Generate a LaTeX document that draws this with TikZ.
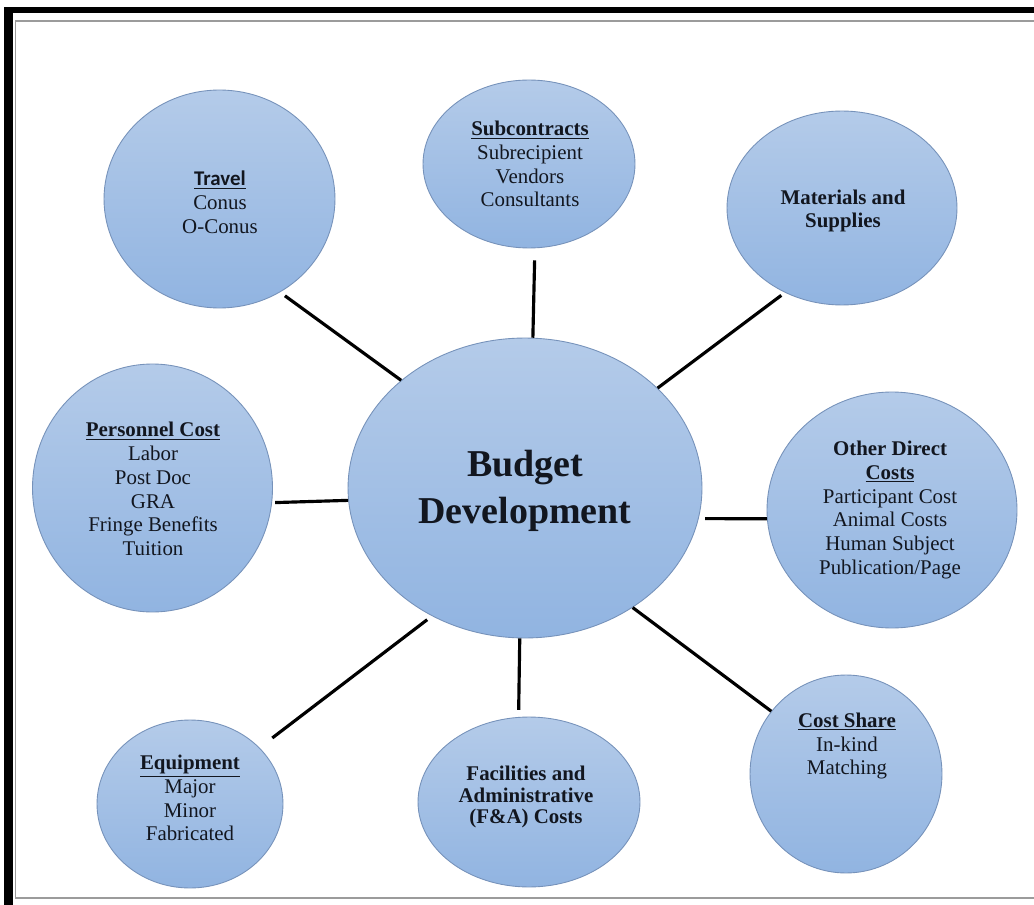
\documentclass[tikz,border=0pt]{standalone}
\usepackage{fontspec}
\setmainfont{Liberation Serif}[Ligatures=TeX]
\newfontfamily\timesf{Liberation Serif}
\newfontfamily\calibri{Carlito}
\usetikzlibrary{shapes.geometric}
\definecolor{ink}{HTML}{12161F}
\definecolor{bubtop}{RGB}{180,203,233}
\definecolor{bubbot}{RGB}{145,180,225}
\definecolor{bubedge}{RGB}{118,146,186}
\definecolor{framegray}{RGB}{155,155,155}
\begin{document}
\begin{tikzpicture}[x=0.02cm,y=-0.02cm,
  bubble/.style={ellipse, draw=bubedge, line width=0.5pt,
    top color=bubtop, bottom color=bubbot, inner sep=0pt},
  btext/.style={align=center, text=ink, inner sep=0pt,
    font=\timesf\fontsize{11.9}{13.6}\selectfont},
  spoke/.style={line width=1.8pt, draw=black}]
\useasboundingbox (0,0) rectangle (1034,905);
\clip (0,0) rectangle (1034,905);

% page frame: heavy black edge with a thin grey rule inside
\fill[black] (4,7) rectangle (1060,930);
\fill[white] (13,13) rectangle (1060,930);
\draw[framegray, line width=1.1pt] (15.5,21) rectangle (1060,898);

% bubbles
\node[bubble, minimum width=4.62cm, minimum height=4.36cm] (trav)  at (219.5,199) {};
\node[bubble, minimum width=4.24cm, minimum height=3.36cm] (sub)   at (529,164) {};
\node[bubble, minimum width=4.60cm, minimum height=3.88cm] (mat)   at (842,208) {};
\node[bubble, minimum width=4.80cm, minimum height=4.96cm] (pers)  at (152.5,488) {};
\node[bubble, minimum width=7.08cm, minimum height=6.00cm] (bud)   at (525,488) {};
\node[bubble, minimum width=5.00cm, minimum height=4.72cm] (odc)   at (892,510) {};
\node[bubble, minimum width=3.72cm, minimum height=3.36cm] (equip) at (190,804) {};
\node[bubble, minimum width=4.44cm, minimum height=3.40cm] (fa)    at (529,802) {};
\node[bubble, minimum width=3.84cm, minimum height=3.96cm] (cs)    at (846,774) {};

% spokes to the central bubble
\draw[spoke, shorten <=0.12cm] (trav.-57) -- (bud.139);
\draw[spoke, shorten <=0.24cm] (sub.-86) -- (bud.87);
\draw[spoke, shorten <=0.09cm] (mat.236) -- (bud.37);
\draw[spoke, shorten <=0.06cm] (pers.-7) -- (bud.184);
\draw[spoke, shorten <=0.13cm] (bud.-10) -- (odc.184);
\draw[spoke, shorten <=0.12cm, shorten >=0.32cm] (bud.-126) -- (equip.39);
\draw[spoke, shorten >=0.14cm] (bud.-92) -- (fa.97);
\draw[spoke] (bud.-48) -- (cs.140);

% labels
\node[btext] (travt) at (220,202)
  {{\calibri\bfseries\underline{Travel}}\\Conus\\O-Conus};
\node[btext] (subt) at (530,164)
  {\textbf{\underline{Subcontracts}}\\Subrecipient\\Vendors\\Consultants};
\node[btext, font=\timesf\fontsize{11.9}{12.6}\selectfont\bfseries] (matt) at (843,211)
  {Materials and\\Supplies};
\node[btext] (perst) at (153,489)
  {\textbf{\underline{Personnel Cost}}\\Labor\\Post Doc\\GRA\\Fringe Benefits\\Tuition};
\node[btext, font=\timesf\fontsize{21.6}{26.6}\selectfont\bfseries] (budt) at (525,491)
  {Budget\\Development};
\node[btext] (odct) at (890,510)
  {\textbf{Other Direct}\\\textbf{\underline{Costs}}\\Participant Cost\\Animal Costs\\Human Subject\\Publication/Page};
\node[btext] (equipt) at (190,798)
  {\textbf{\underline{Equipment}}\\Major\\Minor\\Fabricated};
\node[btext, font=\timesf\fontsize{11.9}{12.3}\selectfont\bfseries] (fat) at (526,797)
  {Facilities and\\Administrative\\(F\&A) Costs};
\node[btext] (cst) at (847,746)
  {\textbf{\underline{Cost Share}}\\In-kind\\Matching};
\end{tikzpicture}
\end{document}
